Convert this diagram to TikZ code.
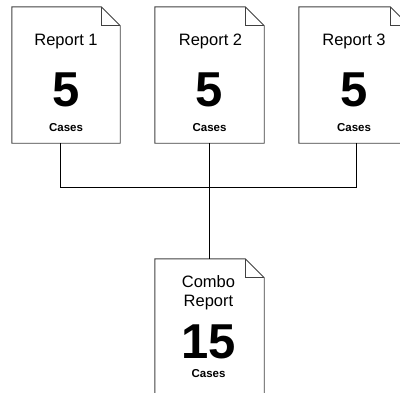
\documentclass[tikz,border=0pt]{standalone}
\usepackage{fontspec}
\setmainfont{Liberation Sans}
\usetikzlibrary{calc}
\tikzset{
  docbox/.style={inner sep=0pt, minimum width=#1, minimum height=136pt},
  docline/.style={draw=black!75, line width=0.9pt, line join=miter},
  conn/.style={draw=black, line width=1pt},
  titletxt/.style={anchor=base, font=\fontsize{16.5}{18}\selectfont},
  numtxt/.style={anchor=base, font=\fontsize{49}{50}\selectfont\bfseries},
  casetxt/.style={anchor=base, font=\fontsize{11.5}{12}\selectfont\bfseries}
}
\newcommand\docoutline[1]{%
  \draw[docline] (#1.north west) -- ($(#1.north east)+(-19,0)$) -- ($(#1.north east)+(0,19)$) -- (#1.south east) -- (#1.south west) -- cycle;
  \draw[docline] ($(#1.north east)+(-19,0)$) -- ($(#1.north east)+(-19,19)$) -- ($(#1.north east)+(0,19)$);
}
\begin{document}
\begin{tikzpicture}[x=1pt,y=-1pt]
\useasboundingbox (0,0) rectangle (400,392);
\clip (0,0) rectangle (400,392);
% documents
\node[docbox=108pt] (d1) at (66,75) {};
\node[docbox=109pt] (d2) at (209.5,75) {};
\node[docbox=110pt] (d3) at (354,75) {};
\node[docbox=109pt] (d4) at (209.5,327) {};
\docoutline{d1}
\docoutline{d2}
\docoutline{d3}
\docoutline{d4}
% texts
\node[titletxt] (t1) at (66,45) {Report 1};
\node[numtxt] (n1) at (66,106) {5};
\node[casetxt] (c1) at (66,131) {Cases};
\node[titletxt] (t2) at (210.5,45) {Report 2};
\node[numtxt] (n2) at (209.5,106) {5};
\node[casetxt] (c2) at (209.5,131) {Cases};
\node[titletxt] (t3) at (354,45) {Report 3};
\node[numtxt] (n3) at (354,106) {5};
\node[casetxt] (c3) at (354,131) {Cases};
\node[titletxt] (t4a) at (208.5,287) {Combo};
\node[titletxt] (t4b) at (208.5,306) {Report};
\node[numtxt] (n4) at (208.5,358) {15};
\node[casetxt] (c4) at (208.5,377) {Cases};
% connectors
\coordinate (j1) at (60,187.5);
\coordinate (j2) at (209,187.5);
\coordinate (j3) at (356,187.5);
\draw[conn] (d1.south -| j1) -- (j1) -- (j3) -- (d3.south -| j3);
\draw[conn] (d2.south -| j2) -- (d4.north -| j2);
\end{tikzpicture}
\end{document}
